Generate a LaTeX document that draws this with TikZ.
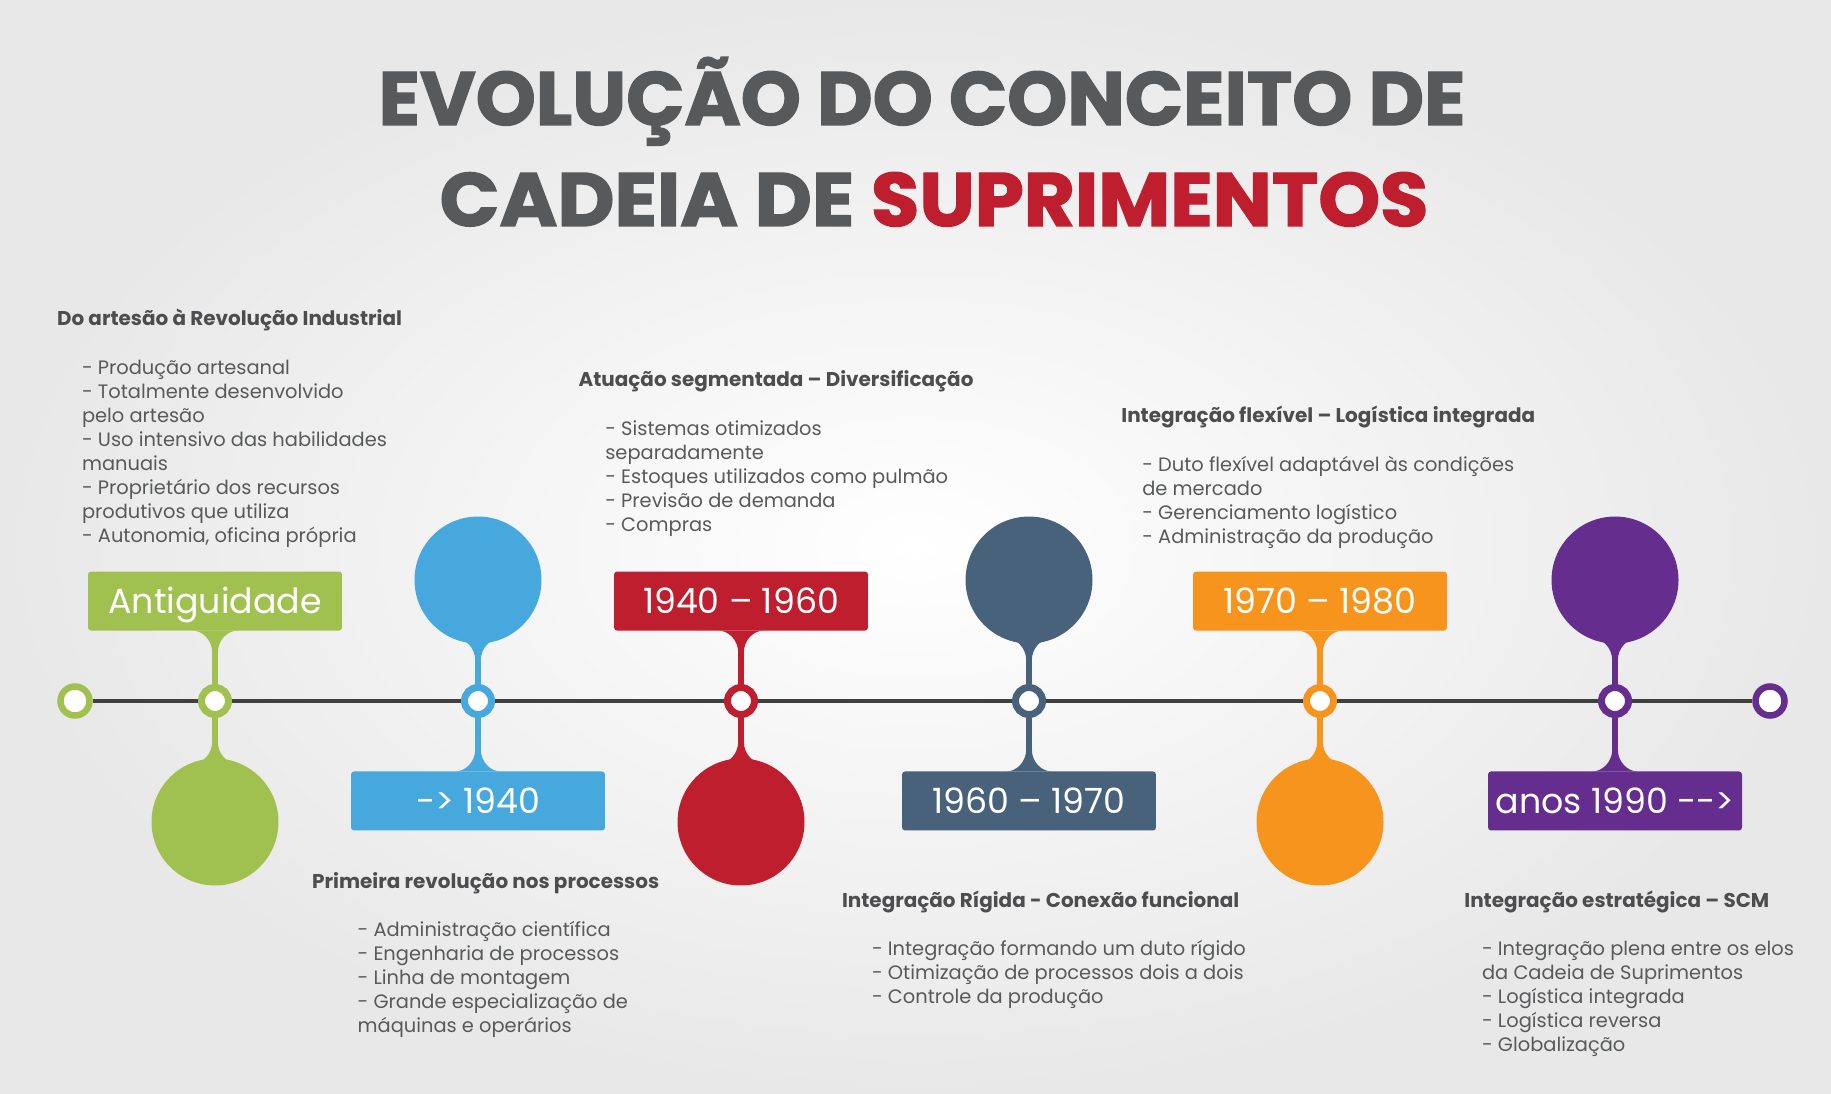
\documentclass[tikz,border=0pt]{standalone}
\usepackage{fontspec}
\setmainfont{Poppins}
\newfontfamily\titlefont{Poppins Bold}[FakeBold=1.8]
\usetikzlibrary{positioning,calc}

\definecolor{cgreen}{HTML}{A0C150}
\definecolor{cblue}{HTML}{47A8DE}
\definecolor{cred}{HTML}{BE1E2D}
\definecolor{cslate}{HTML}{48627C}
\definecolor{corange}{HTML}{F7941E}
\definecolor{cpurple}{HTML}{652D8E}
\definecolor{titlegray}{HTML}{58595B}
\definecolor{textgray}{HTML}{58595B}
\definecolor{headgray}{HTML}{4D4D4F}
\definecolor{linegray}{HTML}{404040}
\definecolor{bgedge}{HTML}{E8E8E8}

\begin{document}
\begin{tikzpicture}[
    x=0.02cm, y=-0.02cm,
    title/.style={anchor=base, inner sep=0, text=titlegray, font=\titlefont\fontsize{43}{48}\selectfont},
    head/.style={anchor=base west, inner sep=0, text=headgray, font=\bfseries\fontsize{11.35}{13.66}\selectfont},
    items/.style={anchor=north west, inner sep=0, align=left, text=textgray, font=\fontsize{11.05}{13.66}\selectfont},
    box/.style={rectangle, rounded corners=0.06cm, minimum width=5.08cm, minimum height=1.18cm, inner sep=0, outer sep=0,
        text=white, text height=13.7pt, text depth=0pt, font=\fontsize{19.8}{22}\selectfont},
    blob/.style={circle, minimum size=2.54cm, inner sep=0, outer sep=0},
    ring/.style={circle, draw, fill=white, line width=0.14cm, minimum size=0.54cm, inner sep=0},
    neck/.style={to path={let \p1=(\tikztostart), \p2=(\tikztotarget),
        \n1={ifthenelse(\y2>\y1,1,-1)}, \n2={\y2+\n1*#1} in
        (\x1-1.6pt,\y1) -- (\x2-1.6pt,\n2-\n1*12.5pt)
        .. controls (\x2-1.6pt,\n2-\n1*5.6pt) and (\x2-7pt,\n2) .. (\x2-13pt,\n2)
        -- (\x2+13pt,\n2)
        .. controls (\x2+7pt,\n2) and (\x2+1.6pt,\n2-\n1*5.6pt) .. (\x2+1.6pt,\n2-\n1*12.5pt)
        -- (\x1+1.6pt,\y1) -- cycle}},
    neck/.default=0pt
]
    \useasboundingbox (0,0) rectangle (1831,1094);
    \fill[inner color=white, outer color=bgedge] (0,0) rectangle (1831,1094);

    % titulo
    \node[title] (t1) at (922,125) {\scalebox{1.012}[1]{EVOLUÇÃO DO CONCEITO DE}};
    \node[title] (t2) at (934,226) {\scalebox{1.04}[1]{CADEIA DE \textcolor{cred}{SUPRIMENTOS}}};

    % linha do tempo
    \node[ring, draw=cgreen, minimum size=0.58cm, line width=0.13cm] (s) at (75,701) {};
    \node[ring, draw=cpurple, minimum size=0.58cm, line width=0.13cm] (e) at (1770,701) {};
    \node[ring, draw=cgreen] (r1) at (215,701) {};
    \node[ring, draw=cblue] (r2) at (478,701) {};
    \node[ring, draw=cred] (r3) at (741,701) {};
    \node[ring, draw=cslate] (r4) at (1029,701) {};
    \node[ring, draw=corange] (r5) at (1320,701) {};
    \node[ring, draw=cpurple] (r6) at (1615,701) {};
    \draw[linegray, line width=0.07cm] (s) -- (r1) -- (r2) -- (r3) -- (r4) -- (r5) -- (r6) -- (e);

    % caixas e circulos
    \node[box, fill=cgreen, above=1.07cm of r1] (b1) {Antiguidade};
    \node[blob, fill=cgreen, below=0.81cm of r1] (c1) {};
    \node[box, fill=cblue, below=1.07cm of r2] (b2) {-> 1940};
    \node[blob, fill=cblue, above=0.81cm of r2] (c2) {};
    \node[box, fill=cred, above=1.07cm of r3] (b3) {1940 – 1960};
    \node[blob, fill=cred, below=0.81cm of r3] (c3) {};
    \node[box, fill=cslate, below=1.07cm of r4] (b4) {1960 – 1970};
    \node[blob, fill=cslate, above=0.81cm of r4] (c4) {};
    \node[box, fill=corange, above=1.07cm of r5] (b5) {1970 – 1980};
    \node[blob, fill=corange, below=0.81cm of r5] (c5) {};
    \node[box, fill=cpurple, below=1.07cm of r6] (b6) {anos 1990 {-}{-}>};
    \node[blob, fill=cpurple, above=0.81cm of r6] (c6) {};

    % hastes
    \fill[cgreen, neck] (r1.north) to (b1.south);
    \fill[cgreen, neck=3pt] (r1.south) to (c1.north);
    \fill[cblue, neck] (r2.south) to (b2.north);
    \fill[cblue, neck=3pt] (r2.north) to (c2.south);
    \fill[cred, neck] (r3.north) to (b3.south);
    \fill[cred, neck=3pt] (r3.south) to (c3.north);
    \fill[cslate, neck] (r4.south) to (b4.north);
    \fill[cslate, neck=3pt] (r4.north) to (c4.south);
    \fill[corange, neck] (r5.north) to (b5.south);
    \fill[corange, neck=3pt] (r5.south) to (c5.north);
    \fill[cpurple, neck] (r6.south) to (b6.north);
    \fill[cpurple, neck=3pt] (r6.north) to (c6.south);

    % textos
    \node[head] (h1) at (56.7,326) {Do artesão à Revolução Industrial};
    \node[items] (l1) at (81.7,355) {\rule{0pt}{11pt}- Produção artesanal\\- Totalmente desenvolvido\\pelo artesão\\- Uso intensivo das habilidades\\manuais\\- Proprietário dos recursos\\produtivos que utiliza\\- Autonomia, oficina própria};

    \node[head] (h2) at (311.8,888.6) {Primeira revolução nos processos};
    \node[items] (l2) at (357.3,917.3) {\rule{0pt}{11pt}- Administração científica\\- Engenharia de processos\\- Linha de montagem\\- Grande especialização de\\máquinas e operários};

    \node[head] (h3) at (578.3,386.7) {Atuação segmentada – Diversificação};
    \node[items] (l3) at (605,415.7) {\rule{0pt}{11pt}- Sistemas otimizados\\separadamente\\- Estoques utilizados como pulmão\\- Previsão de demanda\\- Compras};

    \node[head] (h4) at (841.7,907.3) {Integração Rígida - Conexão funcional};
    \node[items] (l4) at (871.7,935.7) {\rule{0pt}{11pt}- Integração formando um duto rígido\\- Otimização de processos dois a dois\\- Controle da produção};

    \node[head] (h5) at (1121,422.7) {Integração flexível – Logística integrada};
    \node[items] (l5) at (1142,451.4) {\rule{0pt}{11pt}- Duto flexível adaptável às condições\\de mercado\\- Gerenciamento logístico\\- Administração da produção};

    \node[head] (h6) at (1464,907.3) {Integração estratégica – SCM};
    \node[items] (l6) at (1481.7,936) {\rule{0pt}{11pt}- Integração plena entre os elos\\da Cadeia de Suprimentos\\- Logística integrada\\- Logística reversa\\- Globalização};
\end{tikzpicture}
\end{document}
